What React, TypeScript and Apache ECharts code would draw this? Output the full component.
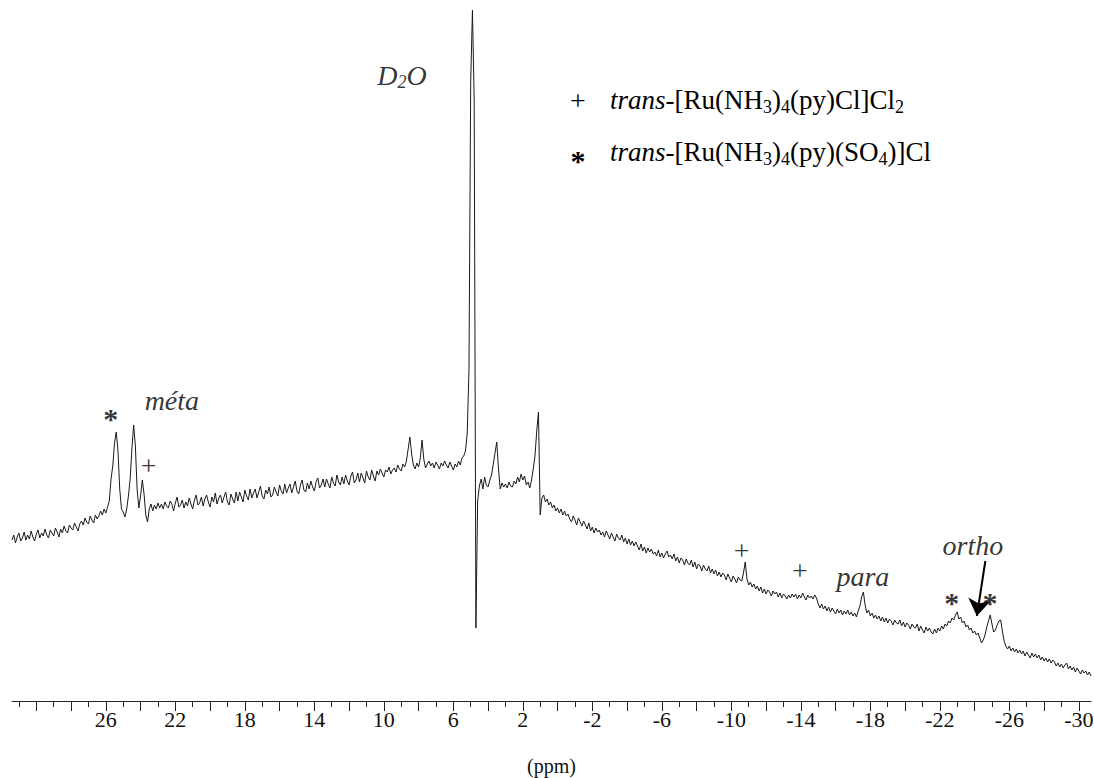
import React, { useEffect, useRef } from "react";
import * as echarts from "echarts";

// Spectrum sampled every 0.1 ppm from 31.4 ppm down to -30.7 ppm (arbitrary intensity units)
const PPM_START = 31.4;
const PPM_STEP = 0.1;
const intensity: number[] = [
  161, 166, 158, 164, 168, 160, 163, 169, 161, 166, // 31.4 → 30.5
  162, 170, 164, 160, 167, 171, 163, 168, 165, 172, // 30.4 → 29.5
  166, 163, 171, 168, 165, 173, 169, 164, 172, 168, // 29.4 → 28.5
  175, 170, 168, 176, 173, 171, 178, 174, 170, 177, // 28.4 → 27.5
  180, 176, 183, 179, 177, 185, 181, 178, 186, 182, // 27.4 → 26.5
  185, 190, 186, 192, 188, 194, 200, 222, 235, 258, // 26.4 → 25.5
  269, 250, 212, 192, 189, 184, 192, 205, 222, 252, // 25.4 → 24.5
  276, 255, 212, 193, 205, 221, 207, 186, 179, 192, // 24.4 → 23.5
  197, 190, 196, 192, 198, 193, 197, 192, 199, 195, // 23.4 → 22.5
  193, 200, 197, 190, 198, 204, 194, 196, 201, 193, // 22.4 → 21.5
  199, 195, 203, 197, 192, 201, 206, 196, 198, 204, // 21.4 → 20.5
  195, 202, 206, 199, 194, 204, 199, 208, 197, 203, // 20.4 → 19.5
  206, 198, 204, 209, 199, 196, 207, 202, 198, 209, // 19.4 → 18.5
  200, 209, 204, 199, 211, 205, 201, 212, 203, 208, // 18.4 → 17.5
  212, 203, 209, 215, 205, 202, 211, 207, 214, 204, // 17.4 → 16.5
  206, 214, 209, 205, 216, 210, 207, 217, 208, 213, // 16.4 → 15.5
  217, 208, 214, 220, 210, 207, 216, 221, 211, 209, // 15.4 → 14.5
  218, 212, 220, 214, 210, 219, 223, 213, 216, 222, // 14.4 → 13.5
  214, 222, 217, 213, 224, 218, 215, 226, 219, 216, // 13.4 → 12.5
  224, 217, 226, 220, 216, 225, 229, 218, 221, 228, // 12.4 → 11.5
  219, 228, 223, 218, 230, 224, 221, 231, 225, 220, // 11.4 → 10.5
  230, 226, 232, 228, 224, 231, 229, 234, 227, 231, // 10.4 → 9.5
  233, 229, 236, 232, 230, 237, 234, 240, 252, 264, // 9.4 → 8.5
  247, 236, 232, 238, 234, 243, 261, 242, 233, 237, // 8.4 → 7.5
  240, 235, 238, 233, 239, 236, 232, 238, 235, 240, // 7.4 → 6.5
  236, 233, 239, 235, 231, 237, 234, 240, 236, 243, // 6.4 → 5.5
  245, 250, 268, 330, 620, 691, 600, 73, 200, 215, // 5.4 → 4.5
  222, 212, 224, 216, 214, 221, 226, 237, 248, 259, // 4.4 → 3.5
  232, 212, 218, 214, 217, 213, 219, 215, 214, 220, // 3.4 → 2.5
  217, 224, 219, 227, 221, 225, 216, 219, 213, 221, // 2.4 → 1.5
  232, 245, 270, 289, 186, 203, 206, 199, 202, 196, // 1.4 → 0.5
  199, 193, 196, 190, 193, 188, 192, 186, 190, 185, // 0.4 → -0.5
  187, 182, 179, 185, 181, 176, 183, 179, 175, 180, // -0.6 → -1.5
  176, 172, 178, 170, 174, 168, 173, 169, 171, 166, // -1.6 → -2.5
  169, 164, 170, 166, 162, 168, 164, 160, 167, 163, // -2.6 → -3.5
  161, 166, 159, 163, 157, 162, 156, 160, 155, 159, // -3.6 → -4.5
  155, 151, 157, 150, 154, 148, 153, 149, 152, 147, // -4.6 → -5.5
  149, 145, 151, 144, 148, 143, 147, 150, 144, 146, // -5.6 → -6.5
  142, 147, 140, 144, 138, 143, 141, 136, 142, 138, // -6.6 → -7.5
  136, 141, 134, 139, 132, 137, 135, 130, 136, 132, // -7.6 → -8.5
  130, 135, 128, 132, 127, 131, 125, 129, 124, 128, // -8.6 → -9.5
  126, 121, 127, 123, 119, 125, 122, 118, 124, 121, // -9.6 → -10.5
  120, 128, 139, 122, 116, 119, 114, 117, 112, 115, // -10.6 → -11.5
  110, 114, 108, 112, 107, 111, 109, 105, 110, 107, // -11.6 → -12.5
  109, 104, 108, 103, 107, 105, 102, 106, 103, 107, // -12.6 → -13.5
  104, 107, 102, 106, 103, 108, 104, 101, 106, 103, // -13.6 → -14.5
  105, 102, 106, 103, 97, 93, 97, 92, 95, 90, // -14.6 → -15.5
  94, 89, 93, 90, 87, 92, 88, 91, 86, 90, // -15.6 → -16.5
  87, 91, 86, 89, 85, 88, 84, 90, 95, 104, // -16.6 → -17.5
  109, 96, 88, 91, 85, 88, 83, 86, 82, 85, // -17.6 → -18.5
  80, 84, 79, 83, 78, 82, 80, 76, 81, 78, // -18.6 → -19.5
  77, 81, 75, 79, 74, 78, 76, 72, 77, 74, // -19.6 → -20.5
  73, 77, 70, 75, 71, 68, 74, 70, 73, 69, // -20.6 → -21.5
  67, 72, 68, 73, 70, 75, 72, 77, 75, 80, // -21.6 → -22.5
  78, 83, 81, 86, 89, 82, 84, 78, 80, 74, // -22.6 → -23.5
  76, 71, 73, 68, 70, 66, 68, 63, 58, 61, // -23.6 → -24.5
  66, 74, 80, 86, 77, 69, 71, 76, 80, 81, // -24.6 → -25.5
  70, 60, 55, 52, 55, 50, 53, 49, 52, 48, // -25.6 → -26.5
  51, 47, 50, 45, 49, 46, 43, 48, 44, 47, // -26.6 → -27.5
  43, 46, 41, 44, 40, 43, 39, 42, 38, 41, // -27.6 → -28.5
  39, 35, 38, 34, 37, 33, 36, 38, 32, 35, // -28.6 → -29.5
  31, 34, 29, 33, 30, 27, 31, 28, 30, 26, // -29.6 → -30.5
  29, 25, // -30.6 → -30.7
];

// Axis ticks and labels (ppm)
const majorTicks = [-30, -28, -26, -24, -22, -20, -18, -16, -14, -12, -10, -8, -6, -4, -2, 0, 2, 4, 6, 8, 10, 12, 14, 16, 18, 20, 22, 24, 26, 28, 30];
const minorTicks = [-29, -27, -25, -23, -21, -19, -17, -15, -13, -11, -9, -7, -5, -3, -1, 1, 3, 5, 7, 9, 11, 13, 15, 17, 19, 21, 23, 25, 27, 29, 31];
const tickLabels = [26, 22, 18, 14, 10, 6, 2, -2, -6, -10, -14, -18, -22, -26, -30];

// Peak annotations
const annText = ["*", "méta", "+", "D2O", "+", "+", "para", "*", "*", "ortho"];
const annPpm = [25.71, 22.2, 23.53, 8.96, -10.6, -13.94, -17.57, -22.69, -24.88, -23.9];
const annIntensity = [283, 301, 236, 626, 151, 131, 125, 99, 99, 156];

// Arrow pointing at the ortho signal
const arrowFrom = [-24.62, 140];
const arrowTo = [-24.13, 85];

const SERIF = "'Liberation Serif', 'Times New Roman', serif";

export default function App() {
  const ref = useRef<HTMLDivElement>(null);

  useEffect(() => {
    if (!ref.current) return;
    const chart = echarts.init(ref.current, undefined, { renderer: "svg" });

    const spectrum = intensity.map((v, i) => [Number((PPM_START - i * PPM_STEP).toFixed(1)), v]);

    const annData = annText.map((t, i) => {
      let label: any;
      if (t === "*") {
        label = { fontSize: 30, fontWeight: "bold", fontFamily: SERIF, color: "#000" };
      } else if (t === "+") {
        label = { fontSize: 28, fontWeight: "normal", fontFamily: SERIF, color: "#000" };
      } else if (t === "D2O") {
        label = {
          formatter: "{i|D}{s|2}{i|O}",
          rich: {
            i: { fontSize: 28, fontStyle: "italic", fontFamily: SERIF, color: "#000", lineHeight: 32 },
            s: { fontSize: 18, fontStyle: "italic", fontFamily: SERIF, color: "#000", lineHeight: 18, verticalAlign: "bottom" },
          },
        };
      } else {
        label = { fontSize: 28, fontStyle: "italic", fontFamily: SERIF, color: "#000" };
      }
      return {
        name: t,
        value: [annPpm[i], annIntensity[i]],
        label: { show: true, position: "inside", formatter: "{b}", ...label },
      };
    });

    const legendRich = {
      it: { fontSize: 27, fontStyle: "italic", fontFamily: SERIF, fill: "#000", lineHeight: 32 },
      n: { fontSize: 27, fontFamily: SERIF, fill: "#000", lineHeight: 32 },
      sub: { fontSize: 18, fontFamily: SERIF, fill: "#000", lineHeight: 18, verticalAlign: "bottom" },
    };

    chart.setOption({
      animation: false,
      backgroundColor: "#ffffff",
      grid: { left: 12, right: 3, top: 1, bottom: 77, containLabel: false, outerBoundsMode: "none" },
      xAxis: [
        {
          type: "value",
          inverse: true,
          min: -30.7,
          max: 31.4,
          position: "bottom",
          axisLine: { show: true, lineStyle: { color: "#222", width: 1 } },
          axisTick: { show: true, customValues: majorTicks, length: 10, lineStyle: { color: "#222", width: 1 } },
          axisLabel: {
            show: true,
            customValues: tickLabels,
            margin: 7,
            fontFamily: SERIF,
            fontSize: 22,
            color: "#111",
          },
          splitLine: { show: false },
          name: "(ppm)",
          nameLocation: "middle",
          nameGap: 55,
          nameTextStyle: { fontFamily: SERIF, fontSize: 20, color: "#111" },
        },
        {
          type: "value",
          inverse: true,
          min: -30.7,
          max: 31.4,
          position: "bottom",
          axisLine: { show: false },
          axisTick: { show: true, customValues: minorTicks, length: 6, lineStyle: { color: "#222", width: 1 } },
          axisLabel: { show: false },
          splitLine: { show: false },
        },
      ],
      yAxis: { type: "value", min: 0, max: 700, show: false },
      series: [
        {
          type: "line",
          xAxisIndex: 0,
          data: spectrum,
          showSymbol: false,
          symbol: "none",
          lineStyle: { color: "#1a1a1a", width: 1 },
          silent: true,
          z: 2,
        },
        {
          type: "scatter",
          xAxisIndex: 0,
          data: annData,
          symbolSize: 0,
          silent: true,
          z: 3,
          markLine: {
            silent: true,
            symbol: ["none", "arrow"],
            symbolSize: 17,
            label: { show: false },
            lineStyle: { color: "#000", width: 2, type: "solid" },
            data: [[{ coord: arrowFrom }, { coord: arrowTo }]],
          },
        },
      ],
      graphic: [
        { type: "text", x: 578, y: 100, style: { text: "+", font: `28px ${SERIF}`, fill: "#000", align: "center", verticalAlign: "middle" } },
        { type: "text", x: 578, y: 160, style: { text: "*", font: `bold 30px ${SERIF}`, fill: "#000", align: "center", verticalAlign: "middle" } },
        {
          type: "text",
          x: 610,
          y: 100,
          style: {
            text: "{it|trans}{n|-[Ru(NH}{sub|3}{n|)}{sub|4}{n|(py)Cl]Cl}{sub|2}",
            rich: legendRich,
            align: "left",
            verticalAlign: "middle",
          },
        },
        {
          type: "text",
          x: 610,
          y: 152,
          style: {
            text: "{it|trans}{n|-[Ru(NH}{sub|3}{n|)}{sub|4}{n|(py)(SO}{sub|4}{n|)]Cl}",
            rich: legendRich,
            align: "left",
            verticalAlign: "middle",
          },
        },
      ],
    });

    return () => chart.dispose();
  }, []);

  return (
    <div
      ref={ref}
      style={{ position: "absolute", left: 0, top: 0, width: 1094, height: 778, background: "#fff" }}
    />
  );
}
